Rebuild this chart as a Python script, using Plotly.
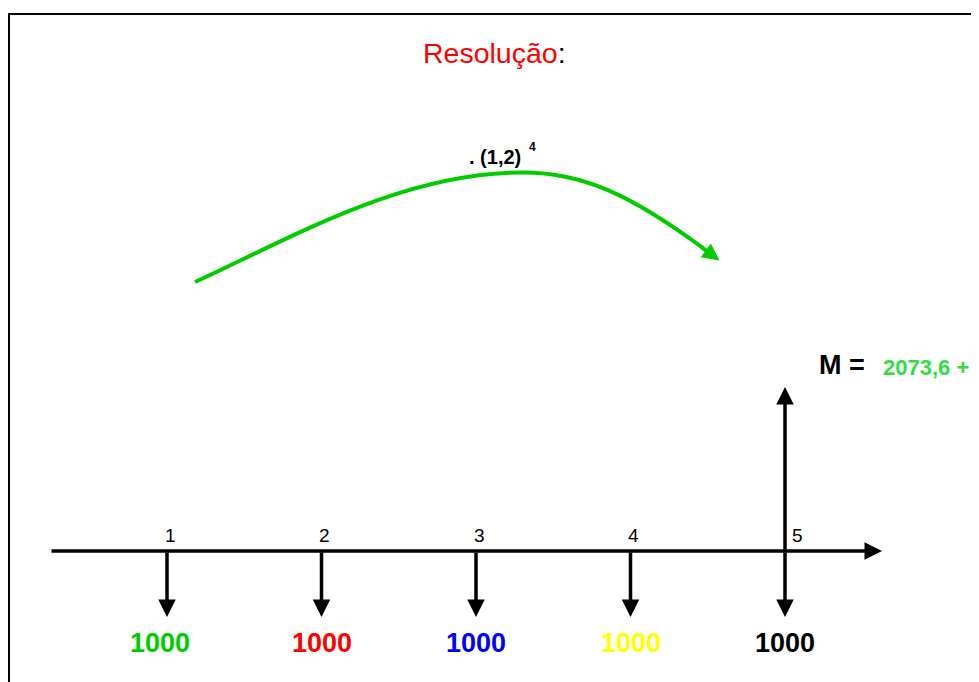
import plotly.graph_objects as go

# ---- data ----
periods = [1, 2, 3, 4, 5]
payments = [1000, 1000, 1000, 1000, 1000]
payment_colors = ["#00cc00", "#ff0000", "#0000ff", "#ffff00", "#000000"]
period_labels = ["1", "2", "3", "4", "5"]
title_text = "Resolução"
factor_text = ". (1,2)"
factor_exp = "4"
m_label = "M ="
m_partial = "2073,6 +"

# ---- layout constants (screen-pixel frame; page body has an 8px margin) ----
WIN_W, WIN_H = 979, 682
OFF = 8
W, H = WIN_W - OFF, WIN_H - OFF
P1_PX = 167.0        # screen x of period 1
DX = 154.5           # pixels per period
AXIS_PY = 551.0      # screen y of the time line
PAY_SCALE = 0.066    # pixels per currency unit for payment arrows
UP_LEN = 164.0       # length of the M arrow (pixels)


def X(px):
    return 1 + (px - P1_PX) / DX


def Y(py):
    return AXIS_PY - py


fig = go.Figure()
fig.add_trace(go.Scatter(x=periods, y=[0] * len(periods), mode="markers",
                         marker=dict(size=1, color="rgba(0,0,0,0)"),
                         hoverinfo="skip", showlegend=False))

ann = []
FONT = "Arial, Liberation Sans, sans-serif"

# time line with arrow
ann.append(dict(x=X(882), y=0, ax=X(50), ay=0, xref="x", yref="y", axref="x", ayref="y",
                text="", showarrow=True, arrowhead=2, arrowsize=1, arrowwidth=3.5,
                arrowcolor="black"))

# payment arrows + labels
for p, v, c, lab in zip(periods, payments, payment_colors, period_labels):
    ann.append(dict(x=p, y=-v * PAY_SCALE, ax=p, ay=0, xref="x", yref="y",
                    axref="x", ayref="y", text="", showarrow=True, arrowhead=2,
                    arrowsize=1, arrowwidth=3.5, arrowcolor="black"))
    ann.append(dict(x=p, y=-92, xref="x", yref="y", text=f"<b>{v}</b>", showarrow=False,
                    font=dict(family=FONT, size=27, color=c), xanchor="center", yanchor="middle",
                    xshift=(-7 if p == 1 else 0)))
    ann.append(dict(x=p, y=16, xref="x", yref="y", text=lab, showarrow=False,
                    font=dict(family=FONT, size=19, color="black"), xanchor="center",
                    yanchor="middle", xshift=(12 if p == periods[-1] else 3)))

# up arrow M
ann.append(dict(x=periods[-1], y=UP_LEN, ax=periods[-1], ay=0, xref="x", yref="y",
                axref="x", ayref="y", text="", showarrow=True, arrowhead=2,
                arrowsize=1, arrowwidth=3.5, arrowcolor="black"))

# M = 2073,6 +
ann.append(dict(x=X(867), y=Y(365), xref="x", yref="y", text=f"<b>{m_label}</b>",
                showarrow=False, font=dict(family=FONT, size=27, color="black"),
                xanchor="right", yanchor="middle"))
ann.append(dict(x=X(881), y=Y(367), xref="x", yref="y", text=f"<b>{m_partial}</b>",
                showarrow=False, font=dict(family=FONT, size=22, color="#33dd44"),
                xanchor="left", yanchor="middle"))

# title
ann.append(dict(x=X(494.5), y=Y(53), xref="x", yref="y",
                text=f"<span style='color:#ff0000'>{title_text}</span>:",
                showarrow=False, font=dict(family=FONT, size=28.5, color="black"),
                xanchor="center", yanchor="middle"))

# factor label
ann.append(dict(x=X(495), y=Y(157), xref="x", yref="y", text=f"<b>{factor_text}</b>",
                showarrow=False, font=dict(family=FONT, size=20, color="black"),
                xanchor="center", yanchor="middle"))
ann.append(dict(x=X(532), y=Y(147), xref="x", yref="y", text=f"<b>{factor_exp}</b>",
                showarrow=False, font=dict(family=FONT, size=12, color="black"),
                xanchor="center", yanchor="middle"))

# curve arrowhead
ann.append(dict(x=X(719.5), y=Y(260.5), ax=X(700), ay=Y(246), xref="x", yref="y",
                axref="x", ayref="y", text="", showarrow=True, arrowhead=2,
                arrowsize=0.85, arrowwidth=4, arrowcolor="#00cc00"))

# green curve (illustrative)
pts = [(195, 282), (295, 236), (403, 172.5), (523, 172.5),
       (583, 172.5), (631, 195), (703, 248)]
path = "M {},{} C {},{} {},{} {},{} C {},{} {},{} {},{}".format(
    *[v for (px, py) in pts for v in (X(px), Y(py))])

shapes = [
    dict(type="path", path=path, xref="x", yref="y",
         line=dict(color="#00cc00", width=4)),
    dict(type="rect", xref="x", yref="y", x0=X(9), y0=Y(14), x1=X(WIN_W + 20), y1=Y(WIN_H + 20),
         line=dict(color="black", width=2)),
]

fig.update_layout(
    width=W, height=H,
    margin=dict(l=0, r=0, t=0, b=0),
    paper_bgcolor="white", plot_bgcolor="white",
    xaxis=dict(range=[X(OFF), X(WIN_W)], visible=False, fixedrange=True),
    yaxis=dict(range=[Y(WIN_H), Y(OFF)], visible=False, fixedrange=True),
    annotations=ann, shapes=shapes, showlegend=False,
)

fig.write_html("out.html")
